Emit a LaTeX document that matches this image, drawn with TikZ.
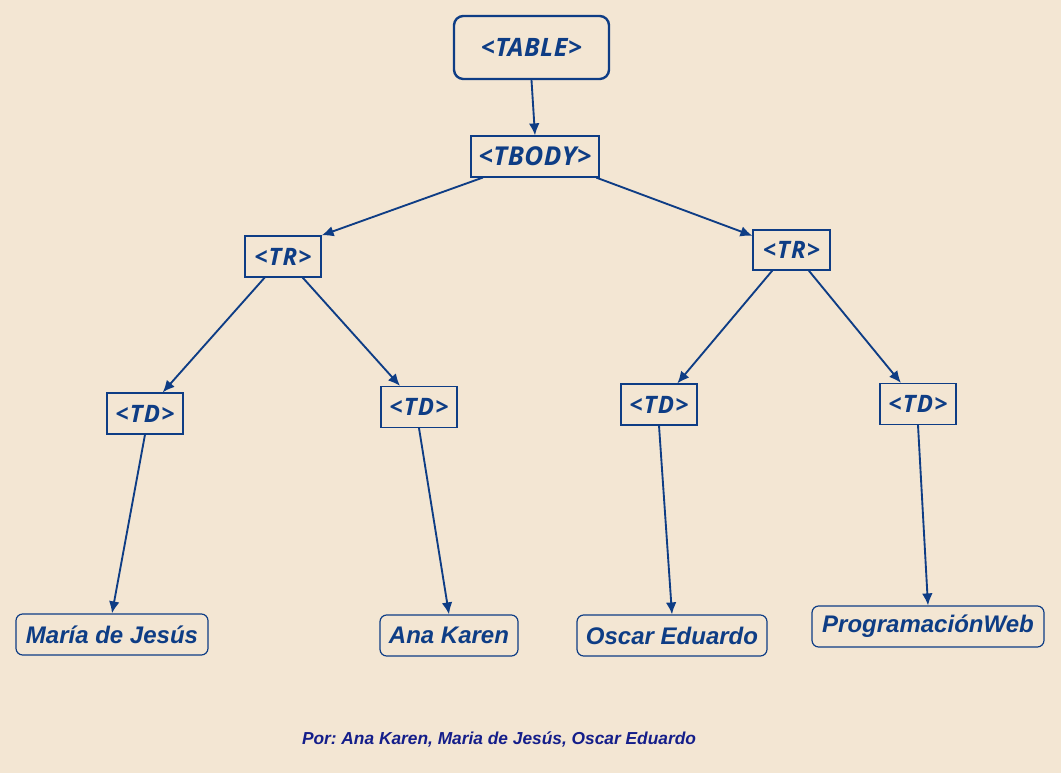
\documentclass[tikz,border=0pt]{standalone}
\usepackage{fontspec}
\usetikzlibrary{arrows.meta}
\newfontfamily\tagfont{Open Sans}[LetterSpace=2, BoldItalicFont={Open Sans Bold Italic}]
\newfontfamily\tagfontwide{Open Sans}[LetterSpace=5, BoldItalicFont={Open Sans Bold Italic}]
\newfontfamily\leaffont{Liberation Sans}
\definecolor{htmlblue}{HTML}{0E3D85}
\definecolor{htmlnavy}{HTML}{141E8A}
\definecolor{woodbg}{HTML}{F3E6D3}
\frenchspacing

\begin{document}
\begin{tikzpicture}[x=0.75pt, y=-0.75pt, >={Latex[length=9pt,width=8pt]},
    tagbox/.style={draw=htmlblue, line width=0.9pt, text=htmlblue, inner sep=0pt,
      minimum width=57pt, minimum height=30.75pt,
      font=\fontsize{18}{21}\selectfont\tagfontwide\bfseries\itshape},
    leafbox/.style={draw=htmlblue, line width=0.9pt, rounded corners=5pt, text=htmlblue,
      inner sep=0pt, minimum height=30.75pt,
      font=\fontsize{18}{22}\selectfont\leaffont\bfseries\itshape},
    link/.style={->, htmlblue, line width=1.4pt}]
        % background
        \fill[woodbg] (0,0) rectangle (1061,773);
        % root and body
        \node[tagbox, line width=1.8pt, rounded corners=7pt, minimum width=116.25pt, minimum height=47.25pt,
          font=\fontsize{19}{23}\selectfont\tagfont\bfseries\itshape] (table) at (531.5,47.5) {<TABLE>};
        \node[tagbox, minimum width=96pt, font=\fontsize{19.5}{23}\selectfont\tagfont\bfseries\itshape] (tbody) at (535,156.5) {<TBODY>};
        % rows
        \node[tagbox] (trl) at (283,256.5) {<TR>};
        \node[tagbox, minimum width=57.75pt, minimum height=30pt] (trr) at (791.5,250) {<TR>};
        % cells
        \node[tagbox] (td1) at (145,413.5) {<TD>};
        \node[tagbox] (td2) at (419,407) {<TD>};
        \node[tagbox] (td3) at (659,404.5) {<TD>};
        \node[tagbox] (td4) at (918,404) {<TD>};
        % contents
        \node[leafbox, minimum width=144pt] (c1) at (112,634.5) {María de Jesús};
        \node[leafbox, minimum width=103.5pt] (c2) at (449,635.5) {Ana Karen};
        \node[leafbox, minimum width=142.5pt] (c3) at (672,635.5) {Oscar Eduardo};
        \node[leafbox, minimum width=174pt] (c4) at (928,626.5) {ProgramaciónWeb};
        % links
        \draw[link] (table.south) -- (tbody.north);
        \draw[link] (tbody.202) -- (trl.north east);
        \draw[link] (tbody.-19) -- (trr.160);
        \draw[link] (trl.229) -- (td1.50);
        \draw[link] (trl.-47) -- (td2.132);
        \draw[link] (trr.227) -- (td3.49);
        \draw[link] (trr.-50) -- (td4.129);
        \foreach \i in {1,2,3,4}{
          \draw[link] (td\i.south) -- (c\i.north);
        }
        % credits
        \node[text=htmlnavy, font=\fontsize{13}{16}\selectfont\leaffont\bfseries\itshape] (credits) at (499,739)
          {Por: Ana Karen, Maria de Jesús, Oscar Eduardo};
\end{tikzpicture}
\end{document}
